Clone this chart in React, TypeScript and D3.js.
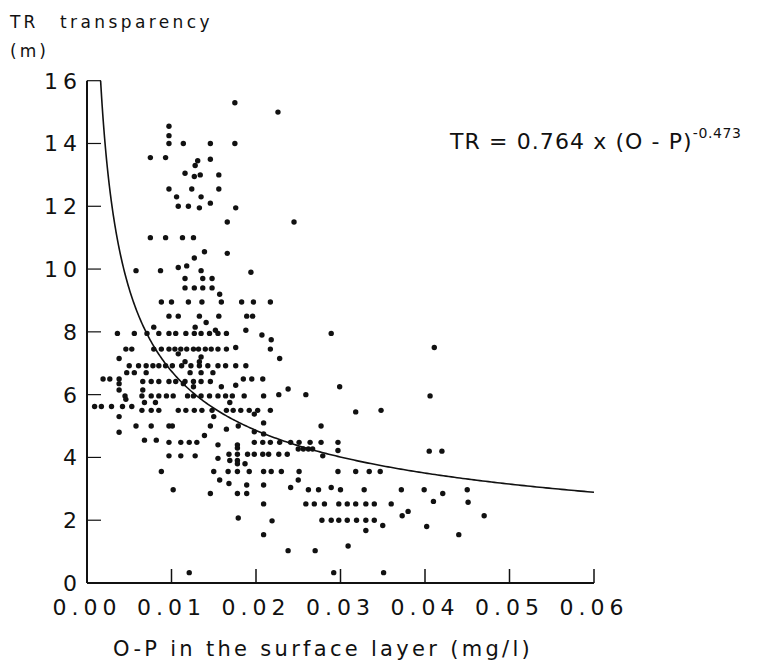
import React from "react";
import * as d3 from "d3";

const W = 767;
const H = 661;

const xTicks = [0, 0.01, 0.02, 0.03, 0.04, 0.05, 0.06];
const xTickLabels = ["0.00", "0.01", "0.02", "0.03", "0.04", "0.05", "0.06"];
const yTicks = [2, 4, 6, 8, 10, 12, 14, 16];
const yTickLabels = ["0", "2", "4", "6", "8", "10", "12", "14", "16"];
const yLabelValues = [0, 2, 4, 6, 8, 10, 12, 14, 16];

const coefA = 0.764;
const expB = -0.473;

// [O-P (mg/l), TR (m)]
const samples: [number, number][] = [
  [0.0175, 15.3], [0.0226, 15.0],
  [0.0097, 14.55], [0.0097, 14.25], [0.0097, 14.0], [0.0114, 14.0], [0.0146, 14.0], [0.0175, 14.0],
  [0.0075, 13.55], [0.0093, 13.55], [0.0131, 13.45], [0.0146, 13.5], [0.0128, 13.3],
  [0.0116, 13.05], [0.0127, 12.95], [0.0134, 13.0], [0.0156, 13.0],
  [0.0097, 12.55], [0.0124, 12.55], [0.0156, 12.55], [0.0106, 12.3], [0.0135, 12.3],
  [0.0108, 12.0], [0.012, 12.0], [0.0133, 11.95], [0.0146, 12.1], [0.0176, 11.95],
  [0.0245, 11.5], [0.0166, 11.5],
  [0.0075, 11.0], [0.0093, 11.0], [0.0113, 11.0], [0.0126, 11.0],
  [0.0166, 10.5], [0.0139, 10.55], [0.0127, 10.35], [0.0118, 10.1], [0.0108, 10.05],
  [0.0058, 9.95], [0.0087, 9.95], [0.0135, 9.95], [0.0194, 9.9],
  [0.0116, 9.7], [0.0137, 9.7], [0.0148, 9.7],
  [0.0116, 9.4], [0.0127, 9.4], [0.0137, 9.4], [0.0148, 9.4], [0.0157, 9.2],
  [0.0088, 8.95], [0.01, 8.95], [0.012, 8.95], [0.0136, 8.95], [0.0159, 8.95], [0.0183, 8.95], [0.0197, 8.95], [0.0217, 8.95],
  [0.0097, 8.5], [0.0108, 8.5], [0.0133, 8.5], [0.0156, 8.5], [0.0189, 8.5], [0.0196, 8.5],
  [0.0128, 8.15], [0.0141, 8.3], [0.0079, 8.15], [0.0188, 8.05], [0.0152, 8.05],
  [0.0036, 7.95], [0.0056, 7.95], [0.0071, 7.95], [0.0085, 7.95], [0.0097, 7.95], [0.0105, 7.95],
  [0.0117, 7.95], [0.0127, 7.95], [0.0135, 7.95], [0.0145, 7.95], [0.0155, 7.95], [0.0165, 7.95],
  [0.0207, 7.9], [0.0289, 7.95],
  [0.0218, 7.75], [0.0176, 7.5], [0.0411, 7.5],
  [0.0046, 7.45], [0.0053, 7.45], [0.0079, 7.45], [0.0088, 7.45], [0.0097, 7.45], [0.0104, 7.45],
  [0.0111, 7.45], [0.0118, 7.45], [0.0126, 7.45], [0.0132, 7.45], [0.014, 7.45], [0.0147, 7.45],
  [0.0155, 7.45], [0.0165, 7.45], [0.0217, 7.45],
  [0.0108, 7.3], [0.0135, 7.2], [0.0228, 7.15], [0.0038, 7.15], [0.0116, 7.05], [0.0133, 7.05],
  [0.005, 6.92], [0.0061, 6.92], [0.007, 6.92], [0.0078, 6.92], [0.0085, 6.92], [0.0093, 6.92],
  [0.0101, 6.92], [0.0112, 6.92], [0.0123, 6.92], [0.0133, 6.92], [0.0143, 6.92], [0.0155, 6.92],
  [0.0164, 6.92], [0.0176, 6.92], [0.0188, 6.92],
  [0.0047, 6.7], [0.0056, 6.7], [0.007, 6.7], [0.0122, 6.7], [0.0135, 6.7], [0.0149, 6.7],
  [0.0019, 6.5], [0.0027, 6.5], [0.0038, 6.5], [0.0185, 6.5], [0.0195, 6.5], [0.0208, 6.5],
  [0.0066, 6.42], [0.0076, 6.42], [0.0085, 6.42], [0.0097, 6.42], [0.0105, 6.42], [0.0116, 6.42],
  [0.0126, 6.42], [0.0135, 6.42], [0.0146, 6.42],
  [0.0038, 6.35], [0.0176, 6.3], [0.0114, 6.35], [0.0126, 6.25], [0.0159, 6.25], [0.0299, 6.25],
  [0.0038, 6.15], [0.0066, 6.15], [0.0238, 6.18], [0.0227, 6.0], [0.0259, 6.0],
  [0.0045, 5.96], [0.0065, 5.96], [0.0076, 5.96], [0.0085, 5.96], [0.0094, 5.96], [0.0102, 5.96],
  [0.0119, 5.96], [0.0126, 5.96], [0.0135, 5.96], [0.0145, 5.96], [0.0155, 5.96], [0.0164, 5.96],
  [0.0172, 5.96], [0.0186, 5.96], [0.0209, 5.96], [0.0406, 5.96],
  [0.0046, 5.85], [0.0068, 5.75], [0.0081, 5.75], [0.0169, 5.75],
  [0.0009, 5.62], [0.0017, 5.62], [0.0029, 5.62], [0.0042, 5.62], [0.0053, 5.62],
  [0.0065, 5.5], [0.0076, 5.5], [0.0085, 5.5], [0.0108, 5.5], [0.0117, 5.5], [0.0127, 5.5],
  [0.0136, 5.5], [0.0148, 5.5], [0.0165, 5.5], [0.0173, 5.5], [0.0182, 5.5], [0.0192, 5.5],
  [0.0202, 5.5], [0.0217, 5.5], [0.0348, 5.5],
  [0.0038, 5.3], [0.0318, 5.45], [0.0198, 5.38], [0.015, 5.3], [0.0209, 5.1],
  [0.0058, 5.0], [0.0076, 5.0], [0.0097, 5.0], [0.0101, 5.0], [0.0146, 5.0], [0.0179, 5.0], [0.0277, 5.0],
  [0.0165, 4.9], [0.0038, 4.8], [0.0198, 4.82], [0.0209, 4.75], [0.0139, 4.7],
  [0.0068, 4.55], [0.0082, 4.55],
  [0.0097, 4.48], [0.0111, 4.48], [0.0121, 4.48], [0.013, 4.48], [0.0198, 4.48], [0.0208, 4.48],
  [0.0217, 4.48], [0.0228, 4.48], [0.0241, 4.48], [0.0251, 4.48], [0.0264, 4.48], [0.0277, 4.48],
  [0.0297, 4.48],
  [0.0155, 4.4], [0.0178, 4.4], [0.0178, 4.3],
  [0.025, 4.27], [0.0256, 4.27], [0.0262, 4.27], [0.0267, 4.27], [0.0297, 4.22], [0.0405, 4.2], [0.042, 4.2],
  [0.0168, 4.1], [0.0178, 4.1], [0.019, 4.1], [0.0198, 4.1], [0.0208, 4.1], [0.0215, 4.1],
  [0.0227, 4.1], [0.0237, 4.1], [0.0279, 4.05],
  [0.0097, 4.05], [0.0111, 4.05], [0.0128, 4.05],
  [0.0155, 3.97], [0.0169, 3.9], [0.0178, 3.9], [0.0178, 3.8], [0.0187, 3.8],
  [0.0088, 3.55], [0.015, 3.55], [0.0167, 3.55], [0.0178, 3.55], [0.0192, 3.55], [0.0209, 3.55],
  [0.0218, 3.55], [0.023, 3.55], [0.0251, 3.55], [0.0297, 3.55], [0.0318, 3.55], [0.0334, 3.55],
  [0.0347, 3.55],
  [0.0157, 3.28], [0.025, 3.28], [0.0168, 3.17], [0.0189, 3.12], [0.0209, 3.12], [0.0241, 3.04], [0.0289, 3.04],
  [0.0102, 2.97], [0.0262, 2.97], [0.0274, 2.97], [0.03, 2.97], [0.0328, 2.97], [0.0372, 2.97],
  [0.0399, 2.97], [0.045, 2.97],
  [0.0146, 2.85], [0.0178, 2.85], [0.0189, 2.85], [0.0421, 2.85],
  [0.041, 2.6], [0.0451, 2.57],
  [0.0209, 2.52], [0.0259, 2.52], [0.0269, 2.52], [0.0281, 2.52], [0.0298, 2.52], [0.0308, 2.52],
  [0.0318, 2.52], [0.033, 2.52], [0.034, 2.52], [0.036, 2.52],
  [0.038, 2.28], [0.0373, 2.14], [0.047, 2.14], [0.0179, 2.07],
  [0.0278, 2.0], [0.0289, 2.0], [0.0298, 2.0], [0.0308, 2.0], [0.0319, 2.0], [0.033, 2.0], [0.034, 2.0],
  [0.0219, 1.98], [0.035, 1.83], [0.0402, 1.8], [0.033, 1.67], [0.0209, 1.54], [0.044, 1.54],
  [0.0309, 1.18], [0.0238, 1.03], [0.027, 1.03],
  [0.0121, 0.33], [0.0292, 0.33], [0.0351, 0.33],
];

const FONT = "'DejaVu Sans', sans-serif";

export default function App() {
  const x = d3.scaleLinear().domain([0, 0.06]).range([87, 594]);
  const y = d3.scaleLinear().domain([0, 16]).range([583, 80.7]);

  const xStart = Math.pow(16 / coefA, 1 / expB);
  const curvePts: [number, number][] = d3
    .range(0, 301)
    .map((i) => {
      const t = i / 300;
      const op = xStart + (0.06 - xStart) * t * t;
      return [op, coefA * Math.pow(op, expB)];
    });
  const line = d3
    .line<[number, number]>()
    .x((d) => x(d[0]))
    .y((d) => y(d[1]));

  const tickLen = 14;
  const x0 = x(0);
  const yBase = y(0);

  return (
    <svg
      width={W}
      height={H}
      viewBox={`0 0 ${W} ${H}`}
      style={{ position: "absolute", left: 0, top: 0, background: "#fff" }}
      fontFamily={FONT}
    >
      <rect x={0} y={0} width={W} height={H} fill="#fff" />
      {/* axis title */}
      <text x={10} y={28} fontSize={17} letterSpacing={3} fill="#111">TR</text>
      <text x={60} y={28} fontSize={17} letterSpacing={3.4} fill="#111">transparency</text>
      <text x={10} y={57} fontSize={17} letterSpacing={3} fill="#111">(m)</text>

      {/* axes */}
      <line x1={x0} y1={yBase} x2={x0} y2={y(16)} stroke="#111" strokeWidth={2} />
      <line x1={x0} y1={yBase} x2={x(0.06)} y2={yBase} stroke="#111" strokeWidth={2} />
      {yTicks.map((v) => (
        <line key={"yt" + v} x1={x0} x2={x0 + tickLen} y1={y(v)} y2={y(v)} stroke="#111" strokeWidth={1.2} />
      ))}
      {xTicks.slice(1).map((v) => (
        <line key={"xt" + v} x1={x(v)} x2={x(v)} y1={yBase} y2={yBase - tickLen} stroke="#111" strokeWidth={1.5} />
      ))}
      {yLabelValues.map((v, i) => (
        <text
          key={"yl" + v}
          x={82}
          y={y(v)}
          dy="0.36em"
          textAnchor="end"
          fontSize={22}
          letterSpacing={5}
          fill="#111"
        >
          {yTickLabels[i]}
        </text>
      ))}
      {xTicks.map((v, i) => (
        <text
          key={"xl" + v}
          x={x(v)}
          y={615}
          textAnchor="middle"
          fontSize={22}
          letterSpacing={5}
          fill="#111"
        >
          {xTickLabels[i]}
        </text>
      ))}
      <text x={113} y={656} fontSize={21} letterSpacing={3.3} fill="#111">
        O-P in the surface layer (mg/l)
      </text>

      {/* regression curve */}
      <path d={line(curvePts) || ""} fill="none" stroke="#111" strokeWidth={1.6} />

      {/* points */}
      {samples.map((d, i) => (
        <circle key={i} cx={x(d[0])} cy={y(d[1])} r={2.7} fill="#111" />
      ))}

      {/* equation */}
      <text x={450} y={149} fontSize={22} letterSpacing={1.1} fill="#111">
        TR = 0.764 x (O - P)
        <tspan dy={-11} fontSize={14} letterSpacing={0.6}>-0.473</tspan>
      </text>
    </svg>
  );
}
